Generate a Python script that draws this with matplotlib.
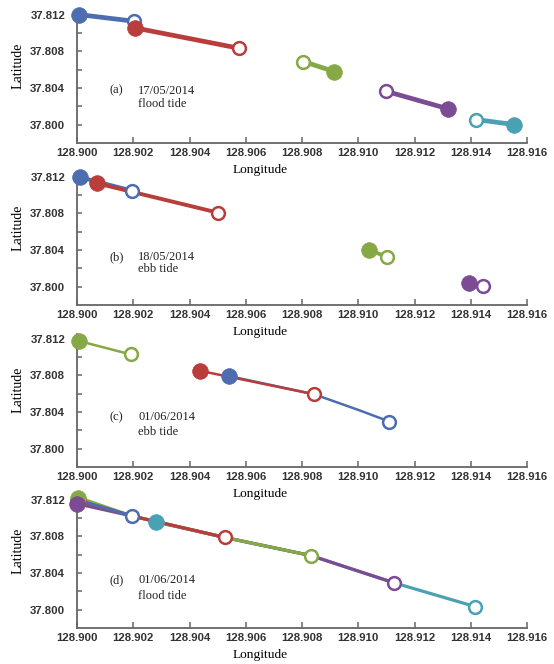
import matplotlib
matplotlib.use('Agg')
import matplotlib.pyplot as plt
from matplotlib.ticker import FormatStrFormatter

# ---------------- data (first point = filled start marker, last = hollow end marker)
# Panel (a) 17/05/2014 flood tide
a_blue_lon = [128.90007, 128.90204]
a_blue_lat = [37.81200, 37.81127]
a_red_lon = [128.90206, 128.90576]
a_red_lat = [37.81055, 37.80833]
a_green_lon = [128.90915, 128.90805]
a_green_lat = [37.80579, 37.80688]
a_purple_lon = [128.91320, 128.91099]
a_purple_lat = [37.80172, 37.80364]
a_teal_lon = [128.91554, 128.91418]
a_teal_lat = [37.80001, 37.80056]

# Panel (b) 18/05/2014 ebb tide
b_blue_lon = [128.90011, 128.90194]
b_blue_lat = [37.81193, 37.81048]
b_red_lon = [128.90070, 128.90502]
b_red_lat = [37.81127, 37.80806]
b_green_lon = [128.91039, 128.91103]
b_green_lat = [37.80398, 37.80325]
b_purple_lon = [128.91395, 128.91445]
b_purple_lat = [37.80043, 37.80008]

# Panel (c) 01/06/2014 ebb tide
c_green_lon = [128.90007, 128.90191]
c_green_lat = [37.81174, 37.81027]
c_red_lon = [128.90437, 128.90843]
c_red_lat = [37.80849, 37.80593]
c_blue_lon = [128.90541, 128.90843, 128.91006, 128.91110]
c_blue_lat = [37.80791, 37.80593, 37.80416, 37.80296]

# Panel (d) 01/06/2014 flood tide
d_blue_lon = [128.90003, 128.90197]
d_blue_lat = [37.81195, 37.81020]
d_red_lon = [128.90002, 128.90197, 128.90526]
d_red_lat = [37.81190, 37.81020, 37.80787]
d_green_lon = [128.90005, 128.90197, 128.90526, 128.90831]
d_green_lat = [37.81222, 37.81020, 37.80787, 37.80590]
d_purple_lon = [128.90000, 128.90197, 128.90526, 128.90831, 128.91128]
d_purple_lat = [37.81155, 37.81020, 37.80787, 37.80590, 37.80292]
d_teal_lon = [128.90281, 128.90526, 128.90831, 128.91128, 128.91415]
d_teal_lat = [37.80956, 37.80787, 37.80590, 37.80292, 37.80034]

panel_letters = ['(a)', '(b)', '(c)', '(d)']
panel_dates = ['17/05/2014', '18/05/2014', '01/06/2014', '01/06/2014']
panel_tides = ['flood tide', 'ebb tide', 'ebb tide', 'flood tide']

x_ticks = [128.900, 128.902, 128.904, 128.906, 128.908, 128.910, 128.912, 128.914, 128.916]
y_ticks = [37.800, 37.804, 37.808, 37.812]
y_minor_ticks = [37.802, 37.806, 37.810]

# ---------------- style
COL = {'blue': '#4d6db0', 'red': '#b83d3b', 'green': '#86a845',
       'purple': '#7b4b93', 'teal': '#4aa1b4'}
SERIF = 'Liberation Serif'
SANS = 'Liberation Sans'

panels = [
    [('blue', a_blue_lon, a_blue_lat), ('red', a_red_lon, a_red_lat),
     ('green', a_green_lon, a_green_lat), ('purple', a_purple_lon, a_purple_lat),
     ('teal', a_teal_lon, a_teal_lat)],
    [('blue', b_blue_lon, b_blue_lat), ('red', b_red_lon, b_red_lat),
     ('green', b_green_lon, b_green_lat), ('purple', b_purple_lon, b_purple_lat)],
    [('green', c_green_lon, c_green_lat), ('blue', c_blue_lon, c_blue_lat),
     ('red', c_red_lon, c_red_lat)],
    [('teal', d_teal_lon, d_teal_lat), ('purple', d_purple_lon, d_purple_lat),
     ('green', d_green_lon, d_green_lat), ('red', d_red_lon, d_red_lat),
     ('blue', d_blue_lon, d_blue_lat)],
]
# order in which start (filled) markers are stacked, last on top
marker_orders = [None, None, None, ['blue', 'red', 'green', 'purple', 'teal']]
line_widths = [3.4, 2.8, 1.8, 2.3]
text_rows = [(0.393, 0.293), (0.361, 0.272), (0.376, 0.266), (0.36, 0.24)]
bottoms_px = [143, 305, 467, 628]

W, H = 554, 664
fig = plt.figure(figsize=(W / 100, H / 100), dpi=100)
ax_h = 133 / H
left = 77 / W
width = 450 / W

for i, tracks in enumerate(panels):
    bottom = (H - bottoms_px[i]) / H
    ax = fig.add_axes([left, bottom, width, ax_h])
    lw = line_widths[i]
    for name, lon, lat in tracks:
        ax.plot(lon, lat, color=COL[name], lw=lw, solid_capstyle='round',
                zorder=2, clip_on=False)
    order = marker_orders[i]
    mtracks = tracks if order is None else sorted(tracks, key=lambda t: order.index(t[0]))
    for name, lon, lat in mtracks:
        ax.plot(lon[0], lat[0], 'o', ms=11.3, mfc=COL[name], mec=COL[name],
                mew=0.5, zorder=3, clip_on=False)
        ax.plot(lon[-1], lat[-1], 'o', ms=9.2, mfc='white', mec=COL[name],
                mew=1.8, zorder=3, clip_on=False)

    ax.set_xlim(128.900, 128.916)
    ax.set_ylim(37.798, 37.8125)
    ax.set_xticks(x_ticks)
    ax.xaxis.set_major_formatter(FormatStrFormatter('%.3f'))
    ax.set_yticks(y_ticks)
    ax.set_yticks(y_minor_ticks, minor=True)
    ax.yaxis.set_major_formatter(FormatStrFormatter('%.3f'))

    for s in ['top', 'right']:
        ax.spines[s].set_visible(False)
    for s in ['left', 'bottom']:
        ax.spines[s].set_color('#666666')
        ax.spines[s].set_linewidth(1.3)

    ax.tick_params(axis='x', direction='in', length=4.5, width=1.1, color='#666666',
                   pad=3.5, labelsize=8.2, labelcolor='#333333')
    ax.tick_params(axis='y', which='both', direction='in', length=3.8, width=1.1,
                   color='#666666', pad=8.5, labelsize=8.2, labelcolor='#333333')
    for lab in ax.get_xticklabels() + ax.get_yticklabels():
        lab.set_fontfamily(SANS)
        lab.set_fontweight('bold')

    ax.set_xlabel('Longitude', fontfamily=SERIF, fontsize=9.6)
    ax.xaxis.label.set_va('center')
    ax.xaxis.set_label_coords(0.408, -0.205)
    ax.set_ylabel('Latitude', fontfamily=SERIF, fontsize=10)
    ax.yaxis.label.set_va('center')
    ax.yaxis.set_label_coords(-0.131, 0.579)

    r1, r2 = text_rows[i]
    ax.text(0.073, r1, panel_letters[i], transform=ax.transAxes, fontfamily=SERIF,
            fontsize=9, ha='left', va='center', color='#222222')
    ax.text(0.136, r1, panel_dates[i], transform=ax.transAxes, fontfamily=SERIF,
            fontsize=9, ha='left', va='center', color='#222222')
    ax.text(0.136, r2, panel_tides[i], transform=ax.transAxes, fontfamily=SERIF,
            fontsize=9, ha='left', va='center', color='#222222')
    ax.patch.set_alpha(0)

fig.savefig('out.png', dpi=100)
